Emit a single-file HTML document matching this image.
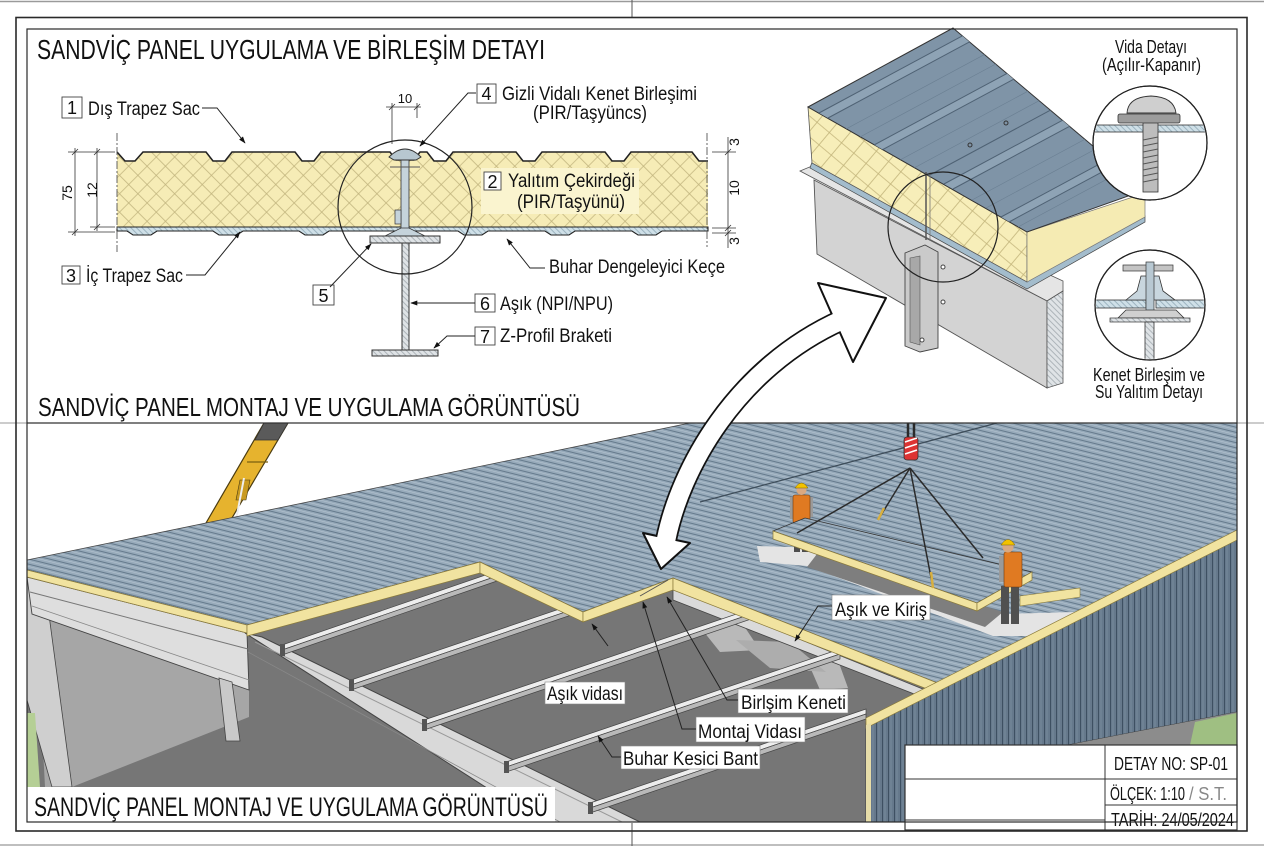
<!DOCTYPE html>
<html><head><meta charset="utf-8">
<style>
html,body{margin:0;padding:0;background:#fff;}
svg{display:block;}
text{font-family:"Liberation Sans Narrow","Liberation Sans","DejaVu Sans Condensed",sans-serif;fill:#111;}
</style></head><body>
<svg width="1264" height="848" viewBox="0 0 1264 848" xmlns="http://www.w3.org/2000/svg">
<defs>
 <pattern id="foam" width="13" height="13" patternUnits="userSpaceOnUse" patternTransform="rotate(45)">
  <rect width="13" height="13" fill="#f6ecb6"/>
  <path d="M0,0.5H13M0.5,0V13" stroke="#bfb27b" stroke-width="0.7"/>
 </pattern>
 <pattern id="foam2" width="16" height="16" patternUnits="userSpaceOnUse" patternTransform="rotate(40)">
  <rect width="16" height="16" fill="#f7eeb9"/>
  <path d="M0,0.5H16M0.5,0V16" stroke="#c2b47a" stroke-width="0.8"/>
 </pattern>
 <pattern id="sh" width="4" height="4" patternUnits="userSpaceOnUse" patternTransform="rotate(45)">
  <rect width="4" height="4" fill="#cfe0e8"/>
  <path d="M0,0.5H4" stroke="#7c97a6" stroke-width="0.6"/>
 </pattern>
 <pattern id="st" width="4" height="4" patternUnits="userSpaceOnUse" patternTransform="rotate(45)">
  <rect width="4" height="4" fill="#dfe3e6"/>
  <path d="M0,0.5H4" stroke="#8c959b" stroke-width="0.6"/>
 </pattern>
 <pattern id="roof" width="8" height="5" patternUnits="userSpaceOnUse" patternTransform="rotate(14)">
  <rect width="8" height="5" fill="#97aaba"/>
  <path d="M0,0.5H8" stroke="#5f7487" stroke-width="0.9"/>
  <path d="M0,2.8H8" stroke="#b5c4d0" stroke-width="0.6"/>
 </pattern>
 <pattern id="wallp" width="6" height="6" patternUnits="userSpaceOnUse">
  <rect width="6" height="6" fill="#66798c"/>
  <path d="M0.5,0V6" stroke="#3e5062" stroke-width="1"/>
  <path d="M3,0V6" stroke="#7f93a5" stroke-width="0.7"/>
 </pattern>
 <marker id="ah" viewBox="0 0 10 10" refX="9" refY="5" markerWidth="7" markerHeight="7" orient="auto">
  <path d="M0,1.5 L10,5 L0,8.5 z" fill="#111"/>
 </marker>
 <clipPath id="isoTop"><polygon points="808,107 953,28 1145,190 1027,232"/></clipPath>
 <clipPath id="cV"><circle cx="1150" cy="143" r="56"/></clipPath>
 <clipPath id="cK"><circle cx="1150" cy="305" r="54"/></clipPath>
 <clipPath id="sceneClip"><rect x="27" y="423" width="1210" height="399"/></clipPath>
</defs>

<line x1="0" y1="1.5" x2="1264" y2="1.5" stroke="#9a9a9a" stroke-width="1.5"/>
<line x1="0" y1="845" x2="1264" y2="845" stroke="#aaa" stroke-width="1.5"/>
<line x1="632" y1="0" x2="632" y2="17" stroke="#555" stroke-width="1"/>
<line x1="632" y1="823" x2="632" y2="846" stroke="#555" stroke-width="1"/>
<line x1="0" y1="423" x2="27" y2="423" stroke="#999" stroke-width="1"/>
<line x1="1237" y1="423" x2="1264" y2="423" stroke="#999" stroke-width="1"/>

<text x="37" y="59" font-size="28" textLength="508" lengthAdjust="spacingAndGlyphs">SANDVİÇ PANEL UYGULAMA VE BİRLEŞİM DETAYI</text>

<!-- ===== CROSS SECTION ===== -->
<path d="M117,152 L125,161 L135,161 L143,152 L206,152 L213,161 L225,161 L232,152 L295,152 L302,161 L314,161 L321,152 L390,152 L396,160 L414,160 L420,152 L427,152 L434,161 L446,161 L453,152 L516,152 L523,161 L535,161 L542,152 L605,152 L612,161 L624,161 L631,152 L692,152 L699,161 L708,161 L708,231 L117,231 Z" fill="url(#foam)"/>
<path d="M117,152 L125,161 L135,161 L143,152 L206,152 L213,161 L225,161 L232,152 L295,152 L302,161 L314,161 L321,152 L390,152 L396,160 L414,160 L420,152 L427,152 L434,161 L446,161 L453,152 L516,152 L523,161 L535,161 L542,152 L605,152 L612,161 L624,161 L631,152 L692,152 L699,161 L708,161" fill="none" stroke="#222" stroke-width="1.6"/>
<path d="M117,227 L708,227 L708,231 L662,231 L656,235 L638,235 L632,231 L575,231 L569,235 L551,235 L545,231 L488,231 L482,235 L464,235 L458,231 L329,231 L323,235 L305,235 L299,231 L243,231 L237,235 L219,235 L213,231 L157,231 L151,235 L133,235 L127,231 L117,231 Z" fill="url(#sh)" stroke="#222" stroke-width="1.1"/>
<rect x="481" y="168" width="158" height="46" fill="#faf4cf"/>
<rect x="401" y="152" width="8" height="86" fill="#c5d3db" stroke="#333" stroke-width="0.8"/>
<path d="M389,157 Q405,141 421,157 L416,160 L394,160 Z" fill="#b7c7d0" stroke="#333" stroke-width="0.9"/>
<rect x="395" y="210" width="6" height="14" fill="#c5d3db" stroke="#333" stroke-width="0.7"/>
<line x1="390" y1="167" x2="420" y2="167" stroke="#555" stroke-width="1"/>
<path d="M385,236 L401,228 L409,228 L425,236 Z" fill="#c5d3db" stroke="#333" stroke-width="0.7"/>
<rect x="370" y="236" width="70" height="7" fill="url(#st)" stroke="#333" stroke-width="1"/>
<rect x="402" y="243" width="7" height="107" fill="url(#st)" stroke="#333" stroke-width="1"/>
<rect x="372" y="350" width="66" height="6" fill="url(#st)" stroke="#333" stroke-width="1"/>
<circle cx="405" cy="207" r="67" fill="none" stroke="#222" stroke-width="1.2"/>
<line x1="117" y1="133" x2="117" y2="252" stroke="#555" stroke-width="0.9" stroke-dasharray="8 2 2 2"/>
<line x1="707" y1="133" x2="707" y2="247" stroke="#555" stroke-width="0.9" stroke-dasharray="8 2 2 2"/>
<g stroke="#333" stroke-width="0.8">
 <line x1="68" y1="152" x2="115" y2="152"/>
 <line x1="90" y1="227" x2="115" y2="227"/>
 <line x1="68" y1="232" x2="115" y2="232"/>
 <line x1="75" y1="148" x2="75" y2="236"/>
 <line x1="97" y1="148" x2="97" y2="231"/>
 <line x1="72" y1="155" x2="78" y2="149"/><line x1="72" y1="235" x2="78" y2="229"/>
 <line x1="94" y1="155" x2="100" y2="149"/><line x1="94" y1="230" x2="100" y2="224"/>
 <line x1="712" y1="152" x2="736" y2="152"/>
 <line x1="712" y1="228" x2="736" y2="228"/>
 <line x1="712" y1="233" x2="736" y2="233"/>
 <line x1="728" y1="137" x2="728" y2="248"/>
 <line x1="725" y1="155" x2="731" y2="149"/><line x1="725" y1="231" x2="731" y2="225"/><line x1="725" y1="236" x2="731" y2="230"/>
 <line x1="386" y1="107" x2="421" y2="107"/>
 <line x1="392" y1="103" x2="392" y2="144"/>
 <line x1="417" y1="103" x2="417" y2="118"/>
 <line x1="389" y1="110" x2="395" y2="104"/><line x1="414" y1="110" x2="420" y2="104"/>
</g>
<text transform="translate(72,193) rotate(-90)" text-anchor="middle" font-size="14">75</text>
<text transform="translate(97,190) rotate(-90)" text-anchor="middle" font-size="14">12</text>
<text transform="translate(739,142) rotate(-90)" text-anchor="middle" font-size="14">3</text>
<text transform="translate(739,188) rotate(-90)" text-anchor="middle" font-size="14">10</text>
<text transform="translate(739,241) rotate(-90)" text-anchor="middle" font-size="14">3</text>
<text x="405" y="103" text-anchor="middle" font-size="13">10</text>

<g fill="#fff" stroke="#444" stroke-width="0.9">
 <rect x="62" y="97" width="20" height="21"/>
 <rect x="477" y="84" width="19" height="19"/>
 <rect x="484" y="172" width="17" height="18"/>
 <rect x="62" y="266" width="18" height="18"/>
 <rect x="313" y="285" width="21" height="20"/>
 <rect x="475" y="294" width="20" height="18"/>
 <rect x="475" y="327" width="20" height="18"/>
</g>
<g font-size="18" text-anchor="middle">
 <text x="72" y="114">1</text>
 <text x="486.5" y="100">4</text>
 <text x="492.5" y="188">2</text>
 <text x="71" y="282">3</text>
 <text x="323.5" y="302">5</text>
 <text x="485" y="310">6</text>
 <text x="485" y="343">7</text>
</g>
<g font-size="19">
 <text x="88" y="115" textLength="112" lengthAdjust="spacingAndGlyphs">Dış Trapez Sac</text>
 <text x="502" y="100" textLength="195" lengthAdjust="spacingAndGlyphs">Gizli Vidalı Kenet Birleşimi</text>
 <text x="533" y="119" textLength="114" lengthAdjust="spacingAndGlyphs">(PIR/Taşyüncs)</text>
 <text x="508" y="187" textLength="127" lengthAdjust="spacingAndGlyphs">Yalıtım Çekirdeği</text>
 <text x="517" y="208" textLength="108" lengthAdjust="spacingAndGlyphs">(PIR/Taşyünü)</text>
 <text x="86" y="282" textLength="97" lengthAdjust="spacingAndGlyphs">İç Trapez Sac</text>
 <text x="549" y="273" textLength="176" lengthAdjust="spacingAndGlyphs">Buhar Dengeleyici Keçe</text>
 <text x="500" y="310" textLength="113" lengthAdjust="spacingAndGlyphs">Aşık (NPI/NPU)</text>
 <text x="500" y="342" textLength="112" lengthAdjust="spacingAndGlyphs">Z-Profil Braketi</text>
</g>
<g fill="none" stroke="#222" stroke-width="1">
 <polyline points="202,108 217,108 245,143" marker-end="url(#ah)"/>
 <polyline points="476,93 468,93 420,146" marker-end="url(#ah)"/>
 <polyline points="186,275 205,275 240,232" marker-end="url(#ah)"/>
 <line x1="330" y1="287" x2="371" y2="244" marker-end="url(#ah)"/>
 <polyline points="545,268 530,268 507,239" marker-end="url(#ah)"/>
 <line x1="475" y1="303" x2="411" y2="303" marker-end="url(#ah)"/>
 <polyline points="475,336 447,336 434,348" marker-end="url(#ah)"/>
</g>

<!-- ===== ISOMETRIC DETAIL ===== -->
<polygon points="800,171 812,166 1063,281 1063,291 1047,301" fill="#e5e5e5" stroke="#555" stroke-width="0.8"/>
<polygon points="814,180 1047,301 1047,388 817,254" fill="#d3d3d3" stroke="#555" stroke-width="0.9"/>
<polygon points="1047,301 1063,291 1063,383 1047,388" fill="url(#st)" stroke="#555" stroke-width="0.8"/>
<polygon points="812,162 1027,281 1145,216 1145,222 1027,289 810,168" fill="#a3bccc" stroke="#444" stroke-width="0.7"/>
<polygon points="808,107 1027,232 1027,282 812,163" fill="url(#foam2)" stroke="#555" stroke-width="0.8"/>
<polygon points="1027,232 1145,193 1145,217 1027,282" fill="#f5ebb3" stroke="#777" stroke-width="0.7"/>
<polygon points="808,107 953,28 1145,190 1027,232" fill="#7f94a7" stroke="#333" stroke-width="1"/>
<g clip-path="url(#isoTop)" stroke-width="1">
 <polygon points="819,113 828,118 1092,-24 1083,-29" fill="#8ea3b5"/>
 <polygon points="874,145 882,150 1146,8 1138,3" fill="#8ea3b5"/>
 <polygon points="944,184 953,189 1217,47 1208,42" fill="#8ea3b5"/>
 <polygon points="1001,217 1009,222 1273,80 1265,75" fill="#8ea3b5"/>
 <g stroke="#4f6274">
  <line x1="819" y1="113" x2="1083" y2="-29"/><line x1="828" y1="118" x2="1092" y2="-24"/>
  <line x1="874" y1="145" x2="1138" y2="3"/><line x1="882" y1="150" x2="1146" y2="8"/>
  <line x1="928" y1="176" x2="1192" y2="34"/>
  <line x1="944" y1="184" x2="1208" y2="42"/><line x1="953" y1="189" x2="1217" y2="47"/>
  <line x1="1001" y1="217" x2="1265" y2="75"/><line x1="1009" y1="222" x2="1273" y2="80"/>
 </g>
 <g stroke="#6a7f92" stroke-width="0.6">
  <line x1="846" y1="129" x2="1110" y2="-13"/><line x1="860" y1="137" x2="1124" y2="-5"/>
  <line x1="900" y1="160" x2="1164" y2="18"/><line x1="914" y1="168" x2="1178" y2="26"/>
  <line x1="972" y1="200" x2="1236" y2="58"/><line x1="986" y1="208" x2="1250" y2="66"/>
  <line x1="1018" y1="227" x2="1282" y2="85"/>
 </g>
 <circle cx="1006" cy="123" r="2" fill="none" stroke="#333"/>
 <circle cx="970" cy="145" r="2" fill="none" stroke="#333"/>
</g>
<line x1="926" y1="172" x2="926" y2="240" stroke="#555" stroke-width="1.5"/>
<line x1="930" y1="172" x2="930" y2="240" stroke="#777" stroke-width="0.8"/>
<polygon points="905,253 925,245 938,252 938,348 920,352 905,346" fill="#cacaca" stroke="#444" stroke-width="0.9"/>
<polygon points="910,258 920,256 920,345 910,342" fill="#a8a8a8" stroke="#555" stroke-width="0.6"/>
<circle cx="943" cy="267" r="2" fill="#fff" stroke="#444"/>
<circle cx="943" cy="302" r="2" fill="#fff" stroke="#444"/>
<circle cx="922" cy="340" r="2" fill="#fff" stroke="#444"/>
<circle cx="943" cy="227" r="55" fill="none" stroke="#222" stroke-width="1.2"/>

<circle cx="1150" cy="143" r="57" fill="#fff" stroke="#222" stroke-width="1.2"/>
<g clip-path="url(#cV)">
 <rect x="1090" y="125" width="120" height="7" fill="url(#sh)" stroke="#333" stroke-width="0.8"/>
 <rect x="1143" y="122" width="15" height="70" fill="#bdbdbd" stroke="#333" stroke-width="0.8"/>
 <g stroke="#555" stroke-width="1">
  <line x1="1143" y1="140" x2="1158" y2="137"/><line x1="1143" y1="146" x2="1158" y2="143"/>
  <line x1="1143" y1="152" x2="1158" y2="149"/><line x1="1143" y1="158" x2="1158" y2="155"/>
  <line x1="1143" y1="164" x2="1158" y2="161"/><line x1="1143" y1="170" x2="1158" y2="167"/>
  <line x1="1143" y1="176" x2="1158" y2="173"/><line x1="1143" y1="182" x2="1158" y2="179"/>
 </g>
 <rect x="1118" y="114" width="62" height="9" rx="2" fill="#9c9c9c" stroke="#333" stroke-width="0.8"/>
 <path d="M1127,113 Q1128,97 1151,96 Q1174,97 1176,113 Z" fill="#cfcfcf" stroke="#333" stroke-width="0.9"/>
</g>
<circle cx="1150" cy="143" r="57" fill="none" stroke="#222" stroke-width="1.2"/>

<circle cx="1150" cy="305" r="55" fill="#fff" stroke="#222" stroke-width="1.2"/>
<g clip-path="url(#cK)">
 <rect x="1090" y="300" width="56" height="8" fill="url(#sh)" stroke="#333" stroke-width="0.8"/>
 <rect x="1156" y="300" width="60" height="8" fill="url(#sh)" stroke="#333" stroke-width="0.8"/>
 <path d="M1126,300 L1137,291 L1141,276 L1159,276 L1163,291 L1175,300 Z" fill="#c8d6de" stroke="#333" stroke-width="0.8"/>
 <rect x="1123" y="265" width="50" height="6" fill="#c4c4c4" stroke="#333" stroke-width="0.7"/>
 <rect x="1146" y="262" width="8" height="50" fill="#b8c8d2" stroke="#333" stroke-width="0.7"/>
 <path d="M1118,318 L1126,310 L1176,310 L1184,318 Z" fill="#d0d0d0" stroke="#333" stroke-width="0.8"/>
 <rect x="1110" y="318" width="80" height="4" fill="url(#st)" stroke="#333" stroke-width="0.7"/>
 <rect x="1145" y="322" width="9" height="45" fill="url(#st)" stroke="#333" stroke-width="0.8"/>
</g>
<circle cx="1150" cy="305" r="55" fill="none" stroke="#222" stroke-width="1.2"/>

<g font-size="18" text-anchor="start">
 <text x="1115" y="53" textLength="72" lengthAdjust="spacingAndGlyphs">Vida Detayı</text>
 <text x="1102" y="71" textLength="99" lengthAdjust="spacingAndGlyphs">(Açılır-Kapanır)</text>
 <text x="1093" y="381" textLength="112" lengthAdjust="spacingAndGlyphs">Kenet Birleşim ve</text>
 <text x="1095" y="398" textLength="108" lengthAdjust="spacingAndGlyphs">Su Yalıtım Detayı</text>
</g>

<text x="38" y="416" font-size="26" textLength="542" lengthAdjust="spacingAndGlyphs">SANDVİÇ PANEL MONTAJ VE UYGULAMA GÖRÜNTÜSÜ</text>

<!-- ===== SCENE ===== -->
<g clip-path="url(#sceneClip)">
<rect x="27" y="423" width="1210" height="399" fill="#fff"/>
<polygon points="27,575 247,630 480,565 673,585 940,694 866,723 866,822 27,822" fill="#767676"/>
<polygon points="700,627 740,620 760,650 720,652" fill="#b9b9b9"/>
<polygon points="807,660 835,652 848,688 820,690" fill="#b9b9b9"/>
<polygon points="736,640 790,642 826,672 770,668" fill="#adadad"/>
<polygon points="36,612 249,683 249,717 72,787 45,787" fill="#a6a6a6"/>
<polygon points="27,580 45,585 72,787 52,787 27,700" fill="#cfcfcf" stroke="#444" stroke-width="0.8"/>
<polygon points="27,713 35,713 40,787 27,787" fill="#b5cf95"/>
<polygon points="27,577 247,633 249,690 32,614" fill="#dedede" stroke="#444" stroke-width="0.9"/>
<line x1="30" y1="592" x2="248" y2="649" stroke="#777" stroke-width="1"/>
<line x1="32" y1="606" x2="249" y2="680" stroke="#888" stroke-width="0.8"/>
<polygon points="219,678 232,682 240,741 226,741" fill="#c9c9c9" stroke="#444" stroke-width="0.8"/>
<polygon points="245,633 262,637 640,822 540,822" fill="#d9d9d9" stroke="#444" stroke-width="1"/>
<line x1="255" y1="642" x2="622" y2="822" stroke="#999" stroke-width="1"/>
<line x1="248" y1="652" x2="560" y2="822" stroke="#888" stroke-width="0.8"/>
<polygon points="673,588 940,696 940,704 673,600" fill="#dadada" stroke="#444" stroke-width="0.8"/>
<g stroke="#444" stroke-width="0.7">
 <polygon points="282,645 500,570 500,575 282,650" fill="#ededed"/><polygon points="282,650 500,575 500,580 282,655" fill="#b9b9b9"/>
 <polygon points="351,680 680,568 680,573 351,685" fill="#ededed"/><polygon points="351,685 680,573 680,578 351,690" fill="#b9b9b9"/>
 <polygon points="424,720 760,606 760,611 424,725" fill="#ededed"/><polygon points="424,725 760,611 760,616 424,730" fill="#b9b9b9"/>
 <polygon points="506,762 840,649 840,654 506,767" fill="#ededed"/><polygon points="506,767 840,654 840,659 506,772" fill="#b9b9b9"/>
 <polygon points="590,803 866,709 866,714 590,808" fill="#ededed"/><polygon points="590,808 866,714 866,719 590,813" fill="#b9b9b9"/>
</g>
<g fill="#555">
 <rect x="280" y="644" width="5" height="12"/><rect x="349" y="679" width="5" height="12"/>
 <rect x="422" y="719" width="5" height="12"/><rect x="504" y="761" width="5" height="12"/>
 <rect x="588" y="802" width="5" height="12"/>
</g>
<polygon points="206,523 229,523 288,423 264,423" fill="#e6b32e" stroke="#4a3b10" stroke-width="1.2"/>
<polygon points="255,440 278,440 288,423 264,423" fill="#5a5a5a" stroke="#333" stroke-width="0.8"/>
<line x1="247" y1="462" x2="268" y2="462" stroke="#7a6010" stroke-width="1.2"/>
<polygon points="240,480 250,480 246,500 236,500" fill="#c99a20" stroke="#4a3b10" stroke-width="0.6"/>
<line x1="244" y1="478" x2="236" y2="520" stroke="#eee" stroke-width="2"/>
<polygon points="27,560 690,423 1237,423 1237,531 940,684 673,578 583,612 480,562 247,625 27,570" fill="url(#roof)" stroke="#444" stroke-width="0.8"/>
<g fill="#f1e3a0" stroke="#8a7a3a" stroke-width="0.7">
 <polygon points="27,570 247,625 247,633 27,577"/>
 <polygon points="247,625 480,562 480,573 247,636"/>
 <polygon points="480,562 583,612 583,622 480,573"/>
 <polygon points="583,612 673,578 673,590 583,622"/>
 <polygon points="673,578 940,684 940,694 673,590"/>
</g>
<line x1="700" y1="502" x2="997" y2="423" stroke="#3e4d5a" stroke-width="1.3"/>
<line x1="640" y1="596" x2="668" y2="580" stroke="#555" stroke-width="1"/>
<polygon points="757,546 820,548 1005,614 1075,612 1062,636 993,636 807,566 760,562" fill="#e4e4e4"/>
<polygon points="817,554 1003,612 985,627 807,567" fill="#7e7e7e"/>
<polygon points="1020,596 1080,588 1080,597 1020,606" fill="#f1e3a0" stroke="#8a7a3a" stroke-width="0.6"/>
<polygon points="866,723 1237,535 1237,712 1068,745 905,745 905,822 866,822" fill="url(#wallp)" stroke="#333" stroke-width="0.8"/>
<polygon points="866,718 1237,530 1237,540 866,728" fill="#f1e3a0" stroke="#8a7a3a" stroke-width="0.7"/>
<polygon points="866,725 871,723 871,822 866,822" fill="#e6dca8"/>
<polygon points="1068,745 1237,712 1237,745" fill="#8c8c8c"/>
<polygon points="1195,722 1237,713 1237,745 1190,745" fill="#9fbf82"/>
<g>
 <rect x="794" y="522" width="6" height="30" fill="#4d4d4d"/>
 <rect x="802" y="522" width="6" height="30" fill="#4d4d4d"/>
 <rect x="790" y="497" width="5" height="22" fill="#9a9a9a"/>
 <rect x="808" y="497" width="5" height="20" fill="#9a9a9a"/>
 <rect x="793" y="495" width="17" height="28" rx="2" fill="#e07a22" stroke="#6b3a10" stroke-width="0.6"/>
 <circle cx="801.5" cy="490" r="5" fill="#d9a982"/>
 <path d="M795,488 Q801.5,478 808,488 Z" fill="#f2c200" stroke="#7a6000" stroke-width="0.5"/>
</g>
<polygon points="773,531 805,518 1032,572 977,603" fill="url(#roof)" stroke="#333" stroke-width="0.8"/>
<polygon points="773,531 977,603 977,611 773,539" fill="#f1e3a0" stroke="#8a7a3a" stroke-width="0.7"/>
<polygon points="977,603 1032,572 1032,580 977,611" fill="#f1e3a0" stroke="#8a7a3a" stroke-width="0.7"/>
<g stroke="#2a2a2a" stroke-width="1.5" fill="none">
 <line x1="910" y1="468" x2="797" y2="533"/>
 <line x1="910" y1="468" x2="878" y2="520"/>
 <line x1="910" y1="468" x2="933" y2="588"/>
 <line x1="910" y1="468" x2="983" y2="558"/>
 <line x1="908" y1="423" x2="908" y2="440" stroke-width="2.5"/>
 <line x1="914" y1="423" x2="914" y2="440" stroke-width="2.5"/>
</g>
<line x1="878" y1="520" x2="884" y2="508" stroke="#d8b040" stroke-width="2.5"/>
<line x1="933" y1="588" x2="931" y2="572" stroke="#d8b040" stroke-width="2.5"/>
<rect x="904" y="437" width="14" height="23" rx="3" fill="#d33" stroke="#333" stroke-width="0.8"/>
<path d="M905,442 L917,438 M905,448 L917,444 M905,454 L917,450" stroke="#fff" stroke-width="1.5"/>
<g>
 <rect x="1001" y="586" width="8" height="38" fill="#505050"/>
 <rect x="1011" y="586" width="8" height="38" fill="#505050"/>
 <rect x="999" y="556" width="5" height="26" fill="#9a9a9a"/>
 <rect x="1004" y="552" width="18" height="35" rx="2" fill="#e07a22" stroke="#6b3a10" stroke-width="0.6"/>
 <circle cx="1008" cy="547" r="5.5" fill="#d9a982"/>
 <path d="M1001,545 Q1008,534 1015,545 Z" fill="#f2c200" stroke="#7a6000" stroke-width="0.5"/>
</g>
<rect x="27" y="787" width="528" height="35" fill="#fff"/>
</g>
<line x1="27" y1="423" x2="1237" y2="423" stroke="#333" stroke-width="1.2"/>

<g fill="#fff" stroke="#888" stroke-width="0.6">
 <rect x="545" y="682" width="80" height="22"/>
 <rect x="738" y="689" width="110" height="24"/>
 <rect x="696" y="717" width="109" height="25"/>
 <rect x="621" y="746" width="139" height="23"/>
 <rect x="832" y="595" width="98" height="25"/>
</g>
<g font-size="19">
 <text x="547" y="700" textLength="76" lengthAdjust="spacingAndGlyphs">Aşık vidası</text>
 <text x="741" y="709" textLength="105" lengthAdjust="spacingAndGlyphs">Birlşim Keneti</text>
 <text x="698" y="738" textLength="104" lengthAdjust="spacingAndGlyphs">Montaj Vidası</text>
 <text x="623" y="765" textLength="135" lengthAdjust="spacingAndGlyphs">Buhar Kesici Bant</text>
 <text x="835" y="616" textLength="92" lengthAdjust="spacingAndGlyphs">Aşık ve Kiriş</text>
</g>
<g fill="none" stroke="#222" stroke-width="1">
 <line x1="608" y1="646" x2="592" y2="624" marker-end="url(#ah)"/>
 <polyline points="738,700 727,700 667,597" marker-end="url(#ah)"/>
 <polyline points="696,729 682,729 643,602" marker-end="url(#ah)"/>
 <polyline points="621,757 612,757 598,736" marker-end="url(#ah)"/>
 <polyline points="832,606 818,606 795,641" marker-end="url(#ah)"/>
</g>

<text x="34" y="816" font-size="27" textLength="514" lengthAdjust="spacingAndGlyphs">SANDVİÇ PANEL MONTAJ VE UYGULAMA GÖRÜNTÜSÜ</text>

<rect x="905" y="745" width="332" height="85" fill="#fff" stroke="#333" stroke-width="1.2"/>
<g stroke="#333" stroke-width="1">
 <line x1="1105" y1="745" x2="1105" y2="830"/>
 <line x1="905" y1="779" x2="1237" y2="779"/>
 <line x1="1105" y1="805" x2="1237" y2="805"/>
 <line x1="905" y1="820" x2="1105" y2="820"/>
</g>
<g font-size="18">
 <text x="1114" y="770" textLength="114" lengthAdjust="spacingAndGlyphs">DETAY NO: SP-01</text>
 <text x="1110" y="800" textLength="75" lengthAdjust="spacingAndGlyphs">ÖLÇEK: 1:10</text>
 <text x="1189" y="800" textLength="38" lengthAdjust="spacingAndGlyphs" style="fill:#888">/ S.T.</text>
 <text x="1111" y="826" textLength="123" lengthAdjust="spacingAndGlyphs">TARİH:  24/05/2024</text>
</g>

<path d="M666,540 C680,470 735,368 842,320" fill="none" stroke="#111" stroke-width="22"/>
<polygon points="818,283 886,298 853,362" fill="#fff" stroke="#111" stroke-width="2" stroke-linejoin="round"/>
<polygon points="643,533 661,569 690,543" fill="#fff" stroke="#111" stroke-width="2" stroke-linejoin="round"/>
<path d="M666,540 C680,470 735,368 842,320" fill="none" stroke="#fff" stroke-width="18.5"/>

<rect x="16" y="17.5" width="1231" height="813.5" fill="none" stroke="#2a2a2a" stroke-width="1.6"/>
<rect x="27" y="29" width="1210" height="793" fill="none" stroke="#2a2a2a" stroke-width="1.2"/>
</svg>
</body></html>
